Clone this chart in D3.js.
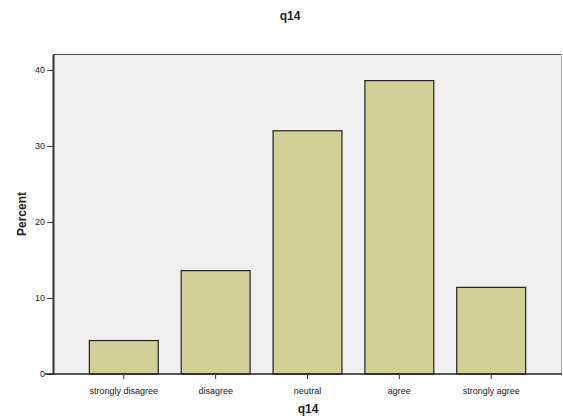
<!DOCTYPE html>
<html><head><meta charset="utf-8">
<script src="https://cdn.jsdelivr.net/npm/d3@7"></script>
<style>body{margin:0;background:#fff}svg{display:block}</style>
</head><body>
<script>
const categories = ["strongly disagree","disagree","neutral","agree","strongly agree"];
const percents = [4.4, 13.6, 32.0, 38.6, 11.4];
const yTicks = [0, 10, 20, 30, 40];
const title = "q14";
const xTitle = "q14";
const yTitle = "Percent";

const W = 563, H = 418;
const pLeft = 53, pRight = 562, pTop = 54, pBottom = 374;
const svg = d3.select("body").append("svg").attr("width", W).attr("height", H)
  .attr("font-family", "Liberation Sans, Arial, sans-serif");

const x = d3.scaleBand().domain(categories).range([pLeft, pRight]).paddingInner(0.25).paddingOuter(0.396);
const y = d3.scaleLinear().domain([0, 42.1]).range([pBottom, pTop]);

svg.append("rect").attr("x", pLeft).attr("y", pTop).attr("width", pRight - pLeft).attr("height", pBottom - pTop)
  .attr("fill", "#f0f0f0");
svg.append("line").attr("x1", pLeft).attr("x2", pRight).attr("y1", pTop + 0.5).attr("y2", pTop + 0.5)
  .attr("stroke", "#555").attr("stroke-width", 1);
svg.append("line").attr("x1", pRight - 0.5).attr("x2", pRight - 0.5).attr("y1", pTop).attr("y2", pBottom)
  .attr("stroke", "#aaa").attr("stroke-width", 1);

svg.append("g").selectAll("rect").data(categories).join("rect")
  .attr("x", d => x(d)).attr("width", x.bandwidth())
  .attr("y", (d, i) => y(percents[i])).attr("height", (d, i) => y(0) - y(percents[i]))
  .attr("fill", "#d3cf99").attr("stroke", "#222").attr("stroke-width", 1.2);

const yAxis = svg.append("g").attr("transform", `translate(${pLeft},0)`)
  .call(d3.axisLeft(y).tickValues(yTicks).tickSize(6).tickSizeOuter(0).tickPadding(2));
yAxis.attr("font-family", null).attr("font-size", null);
yAxis.select(".domain").attr("stroke", "#333").attr("stroke-width", 2);
yAxis.selectAll(".tick line").attr("stroke", "#333");
yAxis.selectAll(".tick text").attr("font-size", 9).attr("fill", "#222");

const xAxis = svg.append("g").attr("transform", `translate(0,${pBottom})`)
  .call(d3.axisBottom(x).tickSize(5).tickSizeOuter(0).tickPadding(9));
xAxis.attr("font-family", null).attr("font-size", null);
xAxis.select(".domain").attr("stroke", "#222").attr("stroke-width", 1.5).attr("d", `M${pLeft - 8},0H${pRight}`);
xAxis.selectAll(".tick line").attr("stroke", "#333");
xAxis.selectAll(".tick text").attr("font-size", 9).attr("fill", "#222");

svg.append("text").attr("x", 290).attr("y", 20).attr("text-anchor", "middle")
  .attr("font-size", 12).attr("font-weight", "bold").attr("fill", "#222").text(title);
svg.append("text").attr("x", 308).attr("y", 413).attr("text-anchor", "middle")
  .attr("font-size", 12).attr("font-weight", "bold").attr("fill", "#222").text(xTitle);
svg.append("text").attr("transform", "translate(26,214) rotate(-90)").attr("text-anchor", "middle")
  .attr("font-size", 12).attr("font-weight", "bold").attr("fill", "#222").text(yTitle);
</script>
</body></html>
